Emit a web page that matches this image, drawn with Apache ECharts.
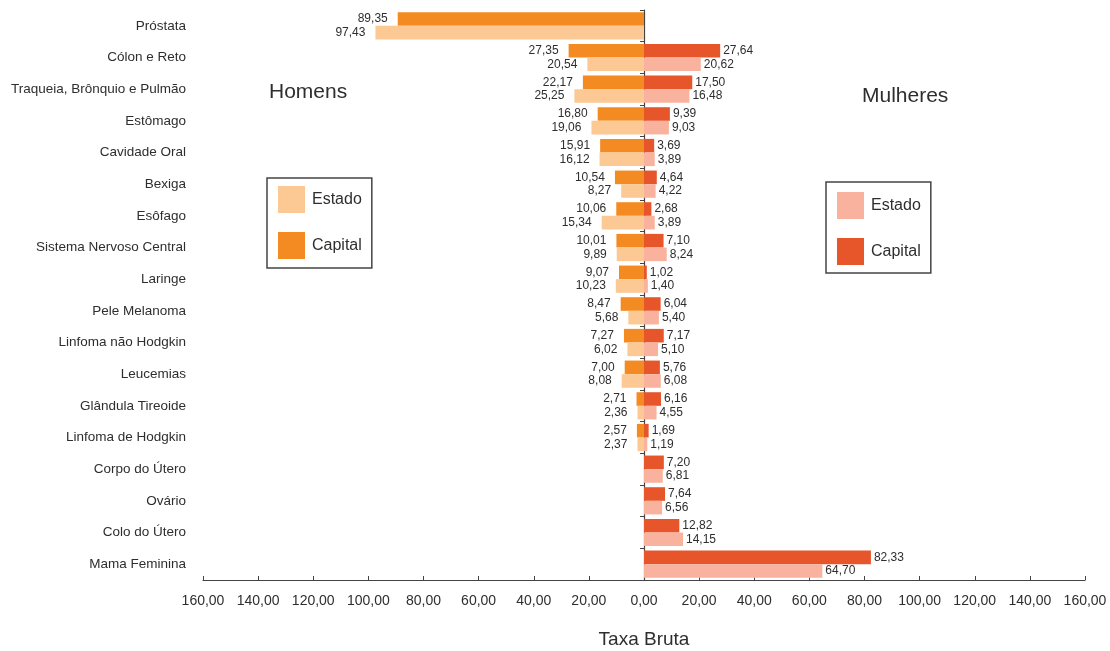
<!DOCTYPE html>
<html>
<head>
<meta charset="utf-8">
<script src="https://cdn.jsdelivr.net/npm/echarts@6/dist/echarts.min.js"></script>
<style>
  html, body { margin: 0; padding: 0; background: #ffffff; }
  #chart { width: 1110px; height: 651px; }
</style>
</head>
<body>
<div id="chart"></div>
<script>
// Tumour sites, top to bottom
const categories = [
  'Próstata', 'Cólon e Reto', 'Traqueia, Brônquio e Pulmão', 'Estômago',
  'Cavidade Oral', 'Bexiga', 'Esôfago', 'Sistema Nervoso Central', 'Laringe',
  'Pele Melanoma', 'Linfoma não Hodgkin', 'Leucemias', 'Glândula Tireoide',
  'Linfoma de Hodgkin', 'Corpo do Útero', 'Ovário', 'Colo do Útero', 'Mama Feminina'
];

// Crude rates, men (drawn to the left of zero)
const menCapital = [89.35, 27.35, 22.17, 16.80, 15.91, 10.54, 10.06, 10.01, 9.07, 8.47, 7.27, 7.00, 2.71, 2.57, null, null, null, null];
const menEstado  = [97.43, 20.54, 25.25, 19.06, 16.12, 8.27, 15.34, 9.89, 10.23, 5.68, 6.02, 8.08, 2.36, 2.37, null, null, null, null];

// Crude rates, women (drawn to the right of zero)
const womenCapital = [null, 27.64, 17.50, 9.39, 3.69, 4.64, 2.68, 7.10, 1.02, 6.04, 7.17, 5.76, 6.16, 1.69, 7.20, 7.64, 12.82, 82.33];
const womenEstado  = [null, 20.62, 16.48, 9.03, 3.89, 4.22, 3.89, 8.24, 1.40, 5.40, 5.10, 6.08, 4.55, 1.19, 6.81, 6.56, 14.15, 64.70];

const xTicks = { min: -160, max: 160, step: 20 };

const FONT = '"Liberation Sans", Arial, sans-serif';
const TEXT = '#2e2e2e';

const fmt = v => Math.abs(v).toFixed(2).replace('.', ',');
const neg = arr => arr.map(v => (v == null ? null : -v));

const colors = {
  menCap: '#F48B22',
  menEst: '#FCC894',
  womenCap: '#E6562A',
  womenEst: '#F9B29E'
};

function barSeries(name, data, stack, color, side, dist) {
  return {
    name: name,
    type: 'bar',
    stack: stack,
    data: data,
    yAxisIndex: 0,
    barGap: '0%',
    barCategoryGap: '14%',
    itemStyle: { color: color },
    label: {
      show: true,
      position: side,
      distance: dist,
      color: TEXT,
      fontFamily: FONT,
      fontSize: 12,
      formatter: p => (p.value == null ? '' : fmt(p.value))
    }
  };
}

const chart = echarts.init(document.getElementById('chart'), null, { renderer: 'canvas' });

chart.setOption({
  backgroundColor: '#ffffff',
  animation: false,
  textStyle: { fontFamily: FONT },
  title: [
    { text: 'Homens', left: 264, top: 77, textStyle: { fontFamily: FONT, fontSize: 21, fontWeight: 'normal', color: TEXT } },
    { text: 'Mulheres', left: 857, top: 81, textStyle: { fontFamily: FONT, fontSize: 21, fontWeight: 'normal', color: TEXT } }
  ],
  legend: [
    {
      data: ['H-Estado', 'H-Capital'],
      orient: 'vertical',
      left: 267, top: 178,
      icon: 'rect',
      itemWidth: 27, itemHeight: 27, itemGap: 19,
      padding: [8, 10, 9, 11],
      borderColor: '#444444', borderWidth: 1.5,
      formatter: n => n.slice(2),
      textStyle: { fontFamily: FONT, fontSize: 16, color: TEXT, padding: [0, 0, 0, 2] }
    },
    {
      data: ['M-Estado', 'M-Capital'],
      orient: 'vertical',
      left: 826, top: 182,
      icon: 'rect',
      itemWidth: 27, itemHeight: 27, itemGap: 19,
      padding: [10, 10, 8, 11],
      borderColor: '#444444', borderWidth: 1.5,
      formatter: n => n.slice(2),
      textStyle: { fontFamily: FONT, fontSize: 16, color: TEXT, padding: [0, 0, 0, 2] }
    }
  ],
  grid: { left: 203, right: 25, top: 10, bottom: 71, containLabel: false, outerBoundsMode: 'none' },
  xAxis: {
    type: 'value',
    min: xTicks.min, max: xTicks.max, interval: xTicks.step,
    name: 'Taxa Bruta',
    nameLocation: 'middle',
    nameGap: 50,
    nameTextStyle: { fontFamily: FONT, fontSize: 19, color: TEXT },
    axisLine: { show: true, lineStyle: { color: '#444444', width: 1.2 } },
    axisTick: { show: true, inside: true, length: 4, lineStyle: { color: '#444444' } },
    axisLabel: { color: TEXT, fontFamily: FONT, fontSize: 14, margin: 14, formatter: v => fmt(v) },
    splitLine: { show: false }
  },
  yAxis: [
    {
      // centre line at zero with category separators
      type: 'category',
      data: categories,
      inverse: true,
      axisLine: { show: true, onZero: true, lineStyle: { color: '#444444', width: 1.2 } },
      axisTick: { show: true, length: 4, lineStyle: { color: '#444444' } },
      axisLabel: { show: false },
      splitLine: { show: false }
    },
    {
      // category names along the left edge
      type: 'category',
      data: categories,
      inverse: true,
      position: 'left',
      axisLine: { show: false, onZero: false },
      axisTick: { show: false },
      axisLabel: { color: TEXT, fontFamily: FONT, fontSize: 13.5, margin: 17, padding: [0, 0, 5, 0] },
      splitLine: { show: false }
    }
  ],
  series: [
    barSeries('H-Capital', neg(menCapital), 'capital', colors.menCap, 'left', 10),
    barSeries('H-Estado', neg(menEstado), 'estado', colors.menEst, 'left', 10),
    barSeries('M-Capital', womenCapital, 'capital', colors.womenCap, 'right', 3),
    barSeries('M-Estado', womenEstado, 'estado', colors.womenEst, 'right', 3)
  ]
});
</script>
</body>
</html>
